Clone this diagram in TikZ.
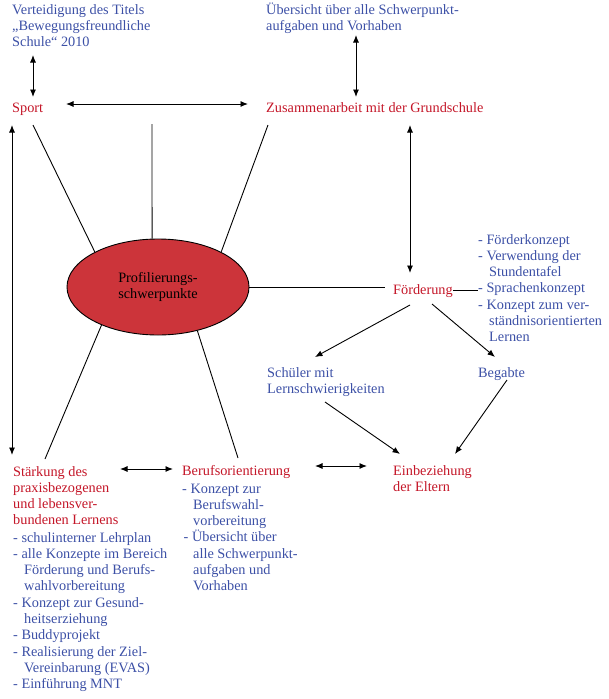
\documentclass[tikz,border=0pt]{standalone}
\usepackage{fontspec}
\setmainfont{Liberation Serif}
\usetikzlibrary{arrows.meta}
\usetikzlibrary{shapes.geometric}

\definecolor{rotText}{RGB}{196,22,40}
\definecolor{blauText}{RGB}{60,80,166}
\definecolor{rotFlaeche}{RGB}{204,52,58}

\begin{document}
\begin{tikzpicture}[x=1pt, y=-1pt,
	kopf/.style = {text=rotText, font=\fontsize{14.3}{16.3}\selectfont, align=left, inner sep=0pt, anchor=base west},
	liste/.style = {kopf, text=blauText},
	verbindung/.style = {line width=0.9pt},
	pfeil/.style = {verbindung, -{Latex[length=7.5pt, width=6pt]}},
	doppelpfeil/.style = {verbindung, {Latex[length=7.5pt, width=6pt]}-{Latex[length=7.5pt, width=6pt]}}]

	% page frame
	\useasboundingbox (0,0) rectangle (608,699);

	\def \einzug {\hspace*{11pt}};

	% ellipse in the middle
	\node [ellipse, draw=black, line width=0.9pt, fill=rotFlaeche, minimum width=182pt, minimum height=96pt, inner sep=0pt, align=center, font=\fontsize{14.3}{16.3}\selectfont] (profil) at (158,287) {Profilierungs-\\schwerpunkte};

	% red headings (multi-line nodes sit on their last baseline)
	\node [kopf] (sport) at (12,112) {Sport};
	\node [kopf] (grundschule) at (266,112) {Zusammenarbeit mit der Grundschule};
	\node [kopf] (foerderung) at (393,294) {Förderung};
	\node [kopf] (eltern) at (393,491.3) {Einbeziehung\\der Eltern};
	\node [kopf] (beruf) at (182,475) {Berufsorientierung};
	\node [kopf] (staerkung) at (13,524.9) {Stärkung des\\praxisbezogenen\\und lebensver-\\bundenen Lernens};

	% blue notes
	\node [liste] (titel) at (12,46.6) {Verteidigung des Titels\\„Bewegungsfreundliche\\Schule“ 2010};
	\node [liste] (uebersicht) at (266,30.3) {Übersicht über alle Schwerpunkt-\\aufgaben und Vorhaben};
	\node [liste] (foerderListe) at (478,341.8) {- Förderkonzept\\- Verwendung der\\\einzug Stundentafel\\- Sprachenkonzept\\- Konzept zum ver-\\\einzug ständnisorientierten\\\einzug Lernen};
	\node [liste] (schueler) at (267,393.3) {Schüler mit\\Lernschwierigkeiten};
	\node [liste] (begabte) at (478,377) {Begabte};
	\node [liste] (berufListe) at (182,590.8) {- Konzept zur\\\einzug Berufswahl-\\\einzug vorbereitung\\\hspace*{1.5pt}- Übersicht über\\\einzug alle Schwerpunkt-\\\einzug aufgaben und\\\einzug Vorhaben};
	\node [liste] (staerkungListe) at (13,688.7) {- schulinterner Lehrplan\\- alle Konzepte im Bereich\\\einzug Förderung und Berufs-\\\einzug wahlvorbereitung\\- Konzept zur Gesund-\\\einzug heitserziehung\\- Buddyprojekt\\- Realisierung der Ziel-\\\einzug Vereinbarung (EVAS)\\- Einführung MNT};

	% arrows at the top
	\draw [doppelpfeil] ([shift={(21,8.4)}]titel.base west) -- ([shift={(21,-15)}]sport.base west);
	\draw [doppelpfeil] ([shift={(54,-8)}]sport.base west) -- ([shift={(-18,-8)}]grundschule.base west);
	\draw [doppelpfeil] ([shift={(90,4.7)}]uebersicht.base west) -- ([shift={(90,-15)}]grundschule.base west);
	\draw [doppelpfeil] ([shift={(144,13)}]grundschule.base west) -- ([shift={(17,-21)}]foerderung.base west);

	% lines from the ellipse
	\coordinate (spokeMitte) at (152,124);
	\coordinate (foerderLinks) at ([xshift=-8pt]foerderung.west);
	\draw [verbindung] (profil.151) -- ([shift={(21,13)}]sport.base west);
	\draw [verbindung] (profil.97) -- (spokeMitte);
	\draw [verbindung] (profil.29) -- ([shift={(2,13)}]grundschule.base west);
	\draw [verbindung] (profil.east) -- (profil.east -| foerderLinks);
	\draw [verbindung] (profil.-48) -- ([shift={(56,-17)}]beruf.base west);
	\draw [verbindung] (profil.-146) -- ([shift={(32,-65.9)}]staerkung.base west);
	\draw [verbindung] (foerderung.east) -- (foerderung.east -| foerderListe.west);

	% branches of Foerderung
	\draw [pfeil] ([shift={(17,11)}]foerderung.base west) -- ([shift={(48,-36.3)}]schueler.base west);
	\draw [pfeil] ([shift={(39,10)}]foerderung.base west) -- ([shift={(17,-20)}]begabte.base west);
	\draw [pfeil] ([shift={(58,8.7)}]schueler.base west) -- ([shift={(7,-37.3)}]eltern.base west);
	\draw [pfeil] ([shift={(29,3)}]begabte.base west) -- ([shift={(62,-37.3)}]eltern.base west);

	% bottom row
	\draw [doppelpfeil] ([shift={(0,13)}]sport.base west) -- ([shift={(-1,-69.9)}]staerkung.base west);
	\draw [doppelpfeil] ([shift={(107,-55.9)}]staerkung.base west) -- ([shift={(-9,-6)}]beruf.base west);
	\draw [doppelpfeil] ([shift={(133,-9)}]beruf.base west) -- ([shift={(-26,-25.3)}]eltern.base west);

\end{tikzpicture}
\end{document}
